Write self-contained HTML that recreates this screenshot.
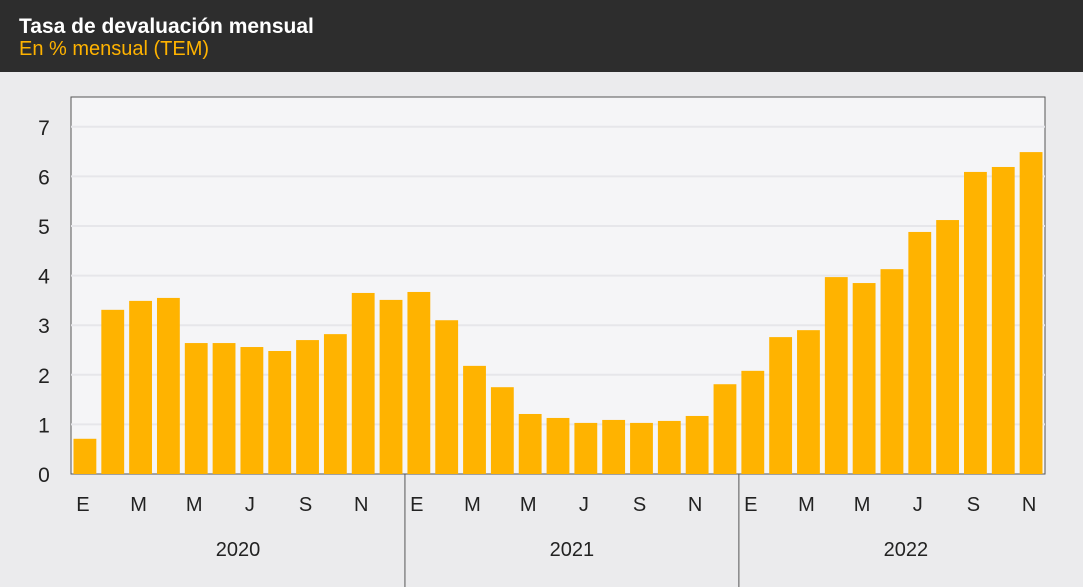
<!DOCTYPE html>
<html><head><meta charset="utf-8"><style>
body{margin:0;width:1083px;height:587px;background:#ebebed;font-family:"Liberation Sans",sans-serif;overflow:hidden}
#hdr{position:absolute;left:0;top:0;width:1083px;height:72px;background:#2d2d2d}
#t{position:absolute;left:19px;top:15px;color:#fff;font-weight:bold;font-size:21px}
#s{position:absolute;left:19px;top:38px;color:#ffb300;font-size:20px}
</style></head><body>
<div id="hdr">
<div id="t">Tasa de devaluación mensual</div>
<div id="s">En % mensual (TEM)</div>
</div>
<svg id="c" width="1083" height="587" style="position:absolute;left:0;top:0"></svg>
<script>
const values2020=[0.71,3.31,3.49,3.55,2.64,2.64,2.56,2.48,2.70,2.82,3.65,3.51];
const values2021=[3.67,3.10,2.18,1.75,1.21,1.13,1.03,1.09,1.03,1.07,1.17,1.81];
const values2022=[2.08,2.76,2.90,3.97,3.85,4.13,4.88,5.12,6.09,6.19,6.49];
const years=["2020","2021","2022"];
const monthLabels=["E","F","M","A","M","J","J","A","S","O","N","D"];
const yTicks=[0,1,2,3,4,5,6,7];
const values=[...values2020,...values2021,...values2022];
const yearLens=[values2020.length,values2021.length,values2022.length];
const L=71,R=1045,T=97,B=474,N=values.length;
const slot=(R-L)/N;
const x=i=>L+slot*i;
const y=v=>B-v*49.6;
const svg=document.getElementById('c');
const NS="http://www.w3.org/2000/svg";
function mk(tag,a,txt){const e=document.createElementNS(NS,tag);for(const k in a)e.setAttribute(k,a[k]);if(txt!==undefined)e.textContent=txt;svg.appendChild(e);return e;}
let e=mk('rect',{x:L,y:T,width:R-L,height:B-T,fill:'#f5f5f7',stroke:'#555','stroke-width':1});


yTicks.forEach(v=>{
 if(v>0){let g=mk('line',{x1:L,x2:R,y1:y(v),y2:y(v),stroke:'#e6e6ea','stroke-width':2});
 
 }
 let t=mk('text',{x:44,y:y(v)+8,'text-anchor':'middle','font-size':21,fill:'#222'},String(v));
 
 
});
values.forEach((v,i)=>{
 let b=mk('rect',{x:x(i)+2.5,y:y(v),width:slot-5,height:B-y(v),fill:'#ffb300'});
 
 
});
let idx=0;
yearLens.forEach((n,k)=>{
 for(let m=0;m<n;m+=2){
  let t=mk('text',{x:x(idx+m)+slot/2-2,y:511,'text-anchor':'middle','font-size':20,fill:'#222'},monthLabels[m]);
  
  
 }
 let cx=(x(idx)+x(idx+(k==2?12:n)))/2;
 let yt=mk('text',{x:cx,y:556,'text-anchor':'middle','font-size':20,fill:'#222'},years[k]);
 
 
 idx+=n;
 if(k<2){let s=mk('line',{x1:x(idx),x2:x(idx),y1:B,y2:587,stroke:'#555','stroke-width':1});
 
 }
});
</script>
</body></html>
